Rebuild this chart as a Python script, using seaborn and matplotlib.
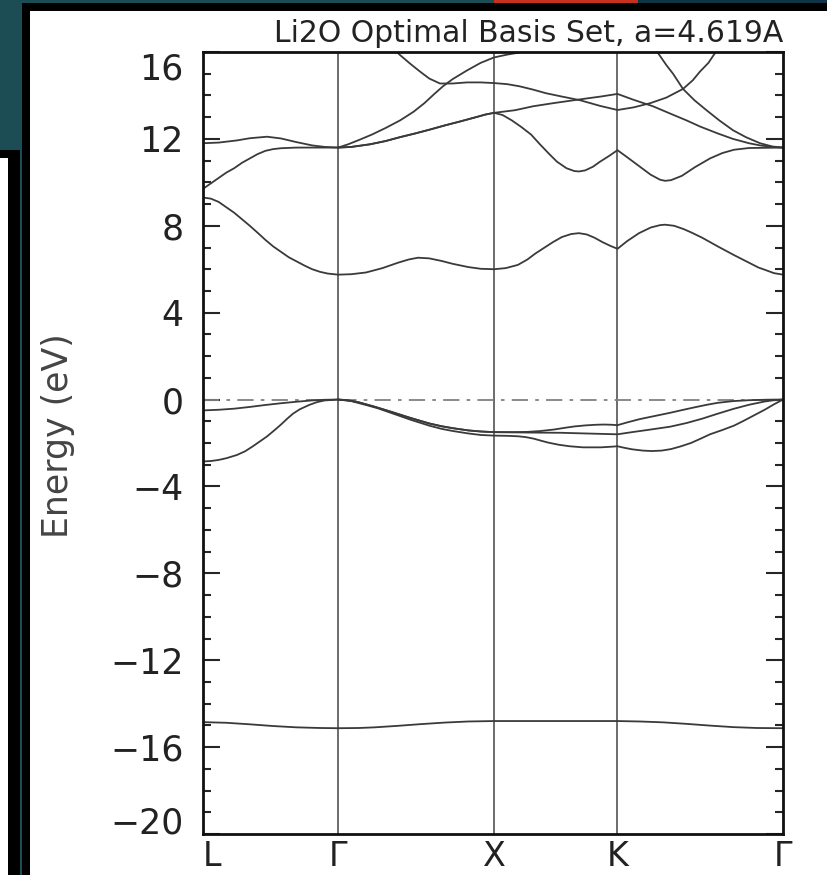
import pandas as pd
import matplotlib.pyplot as plt
import seaborn as sns
from matplotlib.patches import Rectangle

# high symmetry points along the path (units of 2pi/a)
kpts = [0.0, 0.866, 1.866, 2.657, 3.718]
klabels = ["L", "Γ", "X", "K", "Γ"]

# bands: k positions and energies (eV)
o2s_k = [0.0, 0.15, 0.3, 0.45, 0.6, 0.75, 0.866, 1.0, 1.1, 1.25, 1.4, 1.55, 1.7, 1.866,
         2.657, 2.8, 2.95, 3.1, 3.25, 3.4, 3.55, 3.718]
o2s_e = [-14.85, -14.88, -14.95, -15.03, -15.09, -15.12, -15.13, -15.12, -15.09, -15.02, -14.94, -14.87, -14.82, -14.8,
         -14.8, -14.82, -14.86, -14.93, -15.01, -15.08, -15.12, -15.13]

v1_k = [0.0, 0.1, 0.2, 0.3, 0.4, 0.5, 0.6, 0.7, 0.78, 0.866]
v1_e = [-0.5, -0.47, -0.42, -0.34, -0.25, -0.17, -0.1, -0.04, -0.01, 0.0]
v2_k = [0.0, 0.05, 0.1, 0.15, 0.218, 0.27, 0.32, 0.37, 0.41, 0.46, 0.5, 0.54, 0.577, 0.62, 0.68, 0.73, 0.78, 0.866]
v2_e = [-2.85, -2.83, -2.78, -2.7, -2.55, -2.38, -2.15, -1.9, -1.7, -1.4, -1.15, -0.88, -0.65, -0.45, -0.25, -0.12,
        -0.04, 0.0]

v3_k = [0.866, 0.91, 0.95, 1.0, 1.045, 1.1, 1.2, 1.327, 1.45, 1.53, 1.603, 1.7, 1.78, 1.866,
        2.0, 2.077, 2.16, 2.25, 2.32, 2.378, 2.45, 2.52, 2.571, 2.62, 2.657,
        2.72, 2.8, 2.9, 2.994, 3.08, 3.15, 3.23, 3.3, 3.4, 3.5, 3.6, 3.718]
v3_e = [0.0, -0.02, -0.06, -0.13, -0.22, -0.33, -0.55, -0.84, -1.1, -1.23, -1.32, -1.42, -1.47, -1.5,
        -1.5, -1.49, -1.45, -1.38, -1.3, -1.24, -1.19, -1.16, -1.15, -1.16, -1.18,
        -1.05, -0.9, -0.75, -0.61, -0.47, -0.36, -0.24, -0.15, -0.07, -0.03, -0.01, 0.0]
v4_k = [0.866, 0.91, 0.95, 1.0, 1.045, 1.1, 1.2, 1.327, 1.45, 1.53, 1.603, 1.7, 1.78, 1.866,
        2.1, 2.295, 2.5, 2.657, 2.75, 2.85, 2.994, 3.1, 3.2, 3.3, 3.4, 3.5, 3.6, 3.66, 3.718]
v4_e = [0.0, -0.02, -0.06, -0.13, -0.22, -0.33, -0.55, -0.84, -1.1, -1.23, -1.32, -1.42, -1.47, -1.5,
        -1.52, -1.53, -1.57, -1.6, -1.5, -1.4, -1.25, -1.08, -0.88, -0.65, -0.43, -0.24, -0.09, -0.03, 0.0]
v5_k = [0.866, 0.95, 1.045, 1.12, 1.2, 1.327, 1.45, 1.53, 1.603, 1.7, 1.78, 1.866,
        1.95, 2.019, 2.07, 2.12, 2.17, 2.212, 2.28, 2.35, 2.436, 2.55, 2.62, 2.657,
        2.7, 2.75, 2.82, 2.878, 2.94, 3.0, 3.06, 3.128, 3.19, 3.25, 3.33, 3.404, 3.46, 3.5, 3.55, 3.603, 3.66, 3.718]
v5_e = [0.0, -0.07, -0.25, -0.4, -0.6, -0.92, -1.2, -1.35, -1.45, -1.56, -1.63, -1.66,
        -1.67, -1.69, -1.73, -1.8, -1.9, -1.98, -2.08, -2.15, -2.2, -2.2, -2.17, -2.15,
        -2.22, -2.29, -2.35, -2.37, -2.35, -2.28, -2.16, -2.0, -1.8, -1.6, -1.4, -1.2, -1.0, -0.85, -0.66, -0.46,
        -0.22, 0.0]

c1_k = [0.0, 0.05, 0.1, 0.15, 0.2, 0.25, 0.3, 0.35, 0.4, 0.45, 0.5, 0.55, 0.6, 0.65, 0.7, 0.75, 0.8, 0.866,
        0.95, 1.045, 1.15, 1.25, 1.32, 1.378, 1.45, 1.53, 1.6, 1.7, 1.78, 1.866,
        1.94, 2.019, 2.08, 2.13, 2.19, 2.244, 2.3, 2.36, 2.41, 2.46, 2.51, 2.56, 2.61, 2.657,
        2.72, 2.795, 2.87, 2.93, 2.962, 3.02, 3.08, 3.128, 3.2, 3.3, 3.404, 3.5, 3.56, 3.603, 3.66, 3.718]
c1_e = [9.3, 9.25, 9.1, 8.85, 8.6, 8.3, 8.0, 7.68, 7.35, 7.05, 6.8, 6.55, 6.36, 6.17, 6.0, 5.88, 5.8, 5.75,
        5.77, 5.85, 6.05, 6.3, 6.45, 6.53, 6.5, 6.38, 6.25, 6.1, 6.02, 6.0,
        6.05, 6.2, 6.45, 6.72, 7.0, 7.25, 7.48, 7.62, 7.66, 7.6, 7.45, 7.25, 7.08, 6.94,
        7.3, 7.66, 7.92, 8.03, 8.05, 8.0, 7.85, 7.7, 7.45, 7.05, 6.65, 6.3, 6.08, 5.97, 5.82, 5.75]
c2_k = [0.0, 0.05, 0.1, 0.15, 0.2, 0.25, 0.3, 0.35, 0.4, 0.45, 0.5, 0.6, 0.866]
c2_e = [9.7, 9.95, 10.2, 10.45, 10.65, 10.9, 11.1, 11.3, 11.45, 11.53, 11.57, 11.6, 11.6]
c3_k = [0.0, 0.1, 0.218, 0.3, 0.41, 0.5, 0.6, 0.7, 0.78, 0.866]
c3_e = [11.8, 11.83, 11.93, 12.03, 12.1, 12.02, 11.85, 11.7, 11.63, 11.6]

c4_k = [0.866, 0.95, 1.07, 1.17, 1.263, 1.36, 1.455, 1.55, 1.647, 1.75, 1.81, 1.866,
        1.92, 1.98, 2.04, 2.103, 2.16, 2.22, 2.269, 2.33, 2.38, 2.41, 2.45, 2.5, 2.545, 2.6, 2.657,
        2.72, 2.795, 2.87, 2.93, 2.962, 3.0, 3.07, 3.154, 3.25, 3.33, 3.404, 3.5, 3.718]
c4_e = [11.6, 11.63, 11.75, 11.9, 12.08, 12.25, 12.43, 12.62, 12.8, 13.0, 13.12, 13.2,
        13.1, 12.85, 12.55, 12.2, 11.75, 11.3, 10.95, 10.65, 10.52, 10.5, 10.55, 10.72, 10.95, 11.2, 11.48,
        11.15, 10.75, 10.35, 10.12, 10.07, 10.1, 10.3, 10.7, 11.1, 11.35, 11.5, 11.58, 11.6]
c5_k = [0.866, 0.95, 1.07, 1.17, 1.263, 1.36, 1.455, 1.55, 1.647, 1.75, 1.81, 1.866,
        2.0, 2.115, 2.25, 2.417, 2.55, 2.657, 2.76, 2.885, 3.0, 3.1, 3.186, 3.3, 3.397, 3.5, 3.571, 3.65, 3.718]
c5_e = [11.6, 11.63, 11.75, 11.9, 12.08, 12.25, 12.43, 12.62, 12.8, 13.0, 13.12, 13.2,
        13.32, 13.5, 13.65, 13.82, 13.95, 14.07, 13.8, 13.5, 13.15, 12.85, 12.57, 12.25, 12.0, 11.8, 11.7, 11.63,
        11.6]
c6_k = [0.866, 0.93, 1.0, 1.083, 1.17, 1.263, 1.35, 1.42, 1.48, 1.538, 1.6, 1.692, 1.78, 1.866,
        1.95, 2.032, 2.1, 2.2]
c6_e = [11.6, 11.75, 11.95, 12.2, 12.5, 12.85, 13.25, 13.65, 14.05, 14.42, 14.75, 15.15, 15.5, 15.75,
        15.88, 15.98, 16.1, 16.3]
c7_k = [1.2, 1.263, 1.33, 1.391, 1.45, 1.519, 1.6, 1.692, 1.78, 1.866, 1.95, 2.03, 2.115, 2.2, 2.3, 2.417,
        2.545, 2.657, 2.76, 2.865, 2.97, 3.077, 3.14, 3.186, 3.24, 3.282, 3.35]
c7_e = [16.3, 15.86, 15.45, 15.1, 14.78, 14.55, 14.55, 14.6, 14.6, 14.57, 14.52, 14.42, 14.27, 14.1, 13.95, 13.78,
        13.52, 13.33, 13.45, 13.64, 13.9, 14.3, 14.7, 15.1, 15.5, 15.95, 16.5]
c8_k = [2.85, 2.917, 2.97, 3.013, 3.077, 3.15, 3.231, 3.31, 3.397, 3.48, 3.571, 3.65, 3.718]
c8_e = [16.5, 15.95, 15.4, 15.0, 14.3, 13.78, 13.3, 12.85, 12.4, 12.08, 11.8, 11.65, 11.6]

bands = {
    "o2s": (o2s_k, o2s_e), "v1": (v1_k, v1_e), "v2": (v2_k, v2_e), "v3": (v3_k, v3_e),
    "v4": (v4_k, v4_e), "v5": (v5_k, v5_e), "c1": (c1_k, c1_e), "c2": (c2_k, c2_e),
    "c3": (c3_k, c3_e), "c4": (c4_k, c4_e), "c5": (c5_k, c5_e), "c6": (c6_k, c6_e),
    "c7": (c7_k, c7_e), "c8": (c8_k, c8_e),
}
df = pd.concat([pd.DataFrame({"k": k, "E": e, "band": name}) for name, (k, e) in bands.items()])

sns.set_style("white")
plt.rcParams["font.family"] = ["DejaVu Sans"]

W, H = 828, 875
fig = plt.figure(figsize=(W / 100, H / 100), dpi=100)
fig.patch.set_facecolor("#1c4d55")


def box(x, y, w, h, color):
    # rectangle in figure pixels, measured from the top left corner
    fig.add_artist(Rectangle((x / W, 1 - (y + h) / H), w / W, h / H, transform=fig.transFigure,
                             facecolor=color, edgecolor="none", zorder=-5))


# slide backdrop around the chart
box(494, 0, 144, 3, "#c6301f")
box(638, 0, 190, 3, "#0f3445")
box(0, 150, 20, 725, "#000000")
box(0, 158, 8, 717, "#ffffff")
box(22, 3, 806, 872, "#000000")
box(30, 11, 798, 864, "#ffffff")

ax = fig.add_axes([203 / W, 41 / H, 580 / W, 782 / H])
ax.set_facecolor("white")

sns.lineplot(data=df, x="k", y="E", units="band", estimator=None, sort=False,
             color="#3a3a3a", lw=1.3, ax=ax, legend=False)

for k in kpts[1:-1]:
    ax.axvline(k, color="#444444", lw=1.1, zorder=1)
ax.axhline(0, color="#808080", lw=1.3, dashes=(9, 4, 2, 4), zorder=1)

ax.set_xlim(kpts[0], kpts[-1])
ax.set_ylim(-20, 16)
ax.set_xticks(kpts)
ax.set_xticklabels(klabels, fontsize=24)
ax.set_yticks(range(-20, 17, 4))
ax.set_yticks(range(-20, 17), minor=True)
ax.set_yticklabels([f"{v}".replace("-", "\u2212") for v in range(-20, 17, 4)], fontsize=25, color="#222222")
ax.tick_params(axis="y", which="major", direction="in", length=12, width=1.5, left=True, right=True, pad=14)
ax.tick_params(axis="y", which="minor", direction="in", length=6, width=1.5, left=True, right=True)
ax.tick_params(axis="x", length=0, pad=4, colors="#222222")

ylabels = ax.get_yticklabels()
ylabels[-1].set_va("top")
ylabels[0].set_va("baseline")
xl = ax.get_xticklabels()
xl[0].set_ha("left")

for s in ax.spines.values():
    s.set_visible(True)
    s.set_color("#111111")
    s.set_linewidth(2)

ax.set_xlabel("")
ax.set_ylabel("Energy (eV)", fontsize=25, color="#444444")
ax.yaxis.set_label_coords(-0.22, 0.51)
fig.text(783 / W, 1 - 33 / H, "Li2O Optimal Basis Set, a=4.619A", ha="right", va="center",
         fontsize=21.5, color="#222222")

fig.savefig("out.png", dpi=100)
